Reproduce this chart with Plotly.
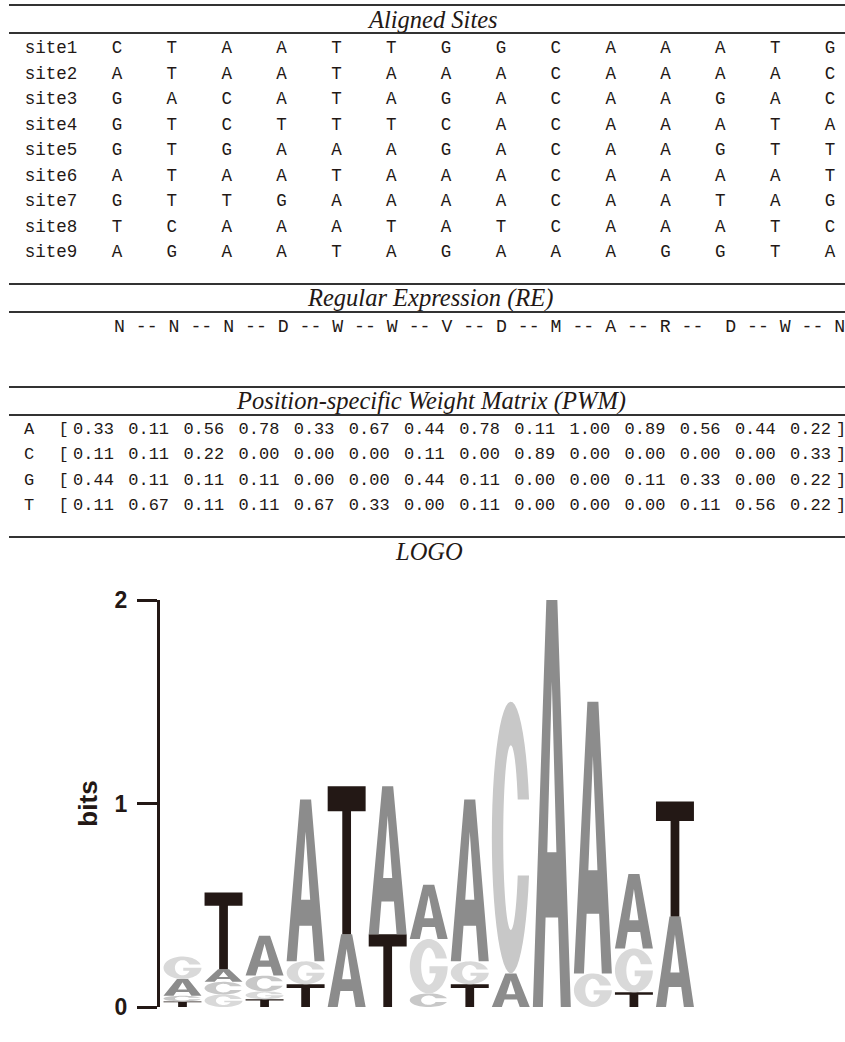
import math
import plotly.graph_objects as go

# ---------------- data ----------------
SITE_NAMES = ["site1", "site2", "site3", "site4", "site5", "site6", "site7", "site8", "site9"]
SITES = [
    "CTAATTGGCAAATG",
    "ATAATAAACAAAAC",
    "GACATAGACAAGAC",
    "GTCTTTCACAAATA",
    "GTGAAAGACAAGTT",
    "ATAATAAACAAAAT",
    "GTTGAAAACAATAG",
    "TCAAATATCAAATC",
    "AGAATAGAAAGGTA",
]
RE_SYMBOLS = ["N", "N", "N", "D", "W", "W", "V", "D", "M", "A", "R", "D", "W", "N"]
BASES = ["A", "C", "G", "T"]
PWM_A = [0.33, 0.11, 0.56, 0.78, 0.33, 0.67, 0.44, 0.78, 0.11, 1.00, 0.89, 0.56, 0.44, 0.22]
PWM_C = [0.11, 0.11, 0.22, 0.00, 0.00, 0.00, 0.11, 0.00, 0.89, 0.00, 0.00, 0.00, 0.00, 0.33]
PWM_G = [0.44, 0.11, 0.11, 0.11, 0.00, 0.00, 0.44, 0.11, 0.00, 0.00, 0.11, 0.33, 0.00, 0.22]
PWM_T = [0.11, 0.67, 0.11, 0.11, 0.67, 0.33, 0.00, 0.11, 0.00, 0.00, 0.00, 0.11, 0.56, 0.22]
LOGO_POSITIONS = 13
YTICKS = [0, 1, 2]

PWM = {"A": PWM_A, "C": PWM_C, "G": PWM_G, "T": PWM_T}

# ---------------- style ----------------
W, H = 845, 1042
TXT = "#231815"
RULE = "#333333"
MONO = "Liberation Mono"
SERIF = "Liberation Serif"
SANS = "Liberation Sans"
LETTER_COL = {"A": "#8c8c8c", "C": "#c8c8c8", "G": "#d9d9d9", "T": "#231815"}

fig = go.Figure()

def px_trace(xs, ys, texts, size=18, family=MONO, color=TXT):
    fig.add_trace(go.Scatter(
        x=xs, y=ys, text=texts, mode="text", textposition="middle center",
        textfont=dict(family=family, size=size, color=color),
        xaxis="x2", yaxis="y2", hoverinfo="skip", showlegend=False, cliponaxis=False))

# ---- rules ----
for yy in [5, 33, 284, 312, 387, 415, 537]:
    fig.add_shape(type="line", xref="x2", yref="y2", x0=9, x1=845, y0=yy, y1=yy,
                  line=dict(color=RULE, width=2))

# ---- section titles ----
def title(txt, x, y):
    fig.add_annotation(text=txt, xref="x2", yref="y2", x=x, y=y, showarrow=False,
                       xanchor="center", yanchor="middle",
                       font=dict(family=SERIF, size=24.5, color=TXT, style="italic"))

title("Aligned Sites", 432, 19)
title("Regular Expression (RE)", 430, 298)
title("Position-specific Weight Matrix (PWM)", 431, 401)
title("LOGO", 429, 551)

# ---- aligned sites ----
SITE_X0, SITE_DX = 117, 54.85
SITE_Y0, SITE_DY = 49, 25.5
xs, ys, tx = [], [], []
for r, (name, seq) in enumerate(zip(SITE_NAMES, SITES)):
    yy = SITE_Y0 + r * SITE_DY
    xs.append(51); ys.append(yy); tx.append(name)
    for c, ch in enumerate(seq):
        xs.append(SITE_X0 + c * SITE_DX); ys.append(yy); tx.append(ch)
px_trace(xs, ys, tx, size=17.5)

# ---- regular expression ----
seps = [" -- "] * (len(RE_SYMBOLS) - 1)
seps[10] = " --  "
re_text = RE_SYMBOLS[0] + "".join(s + sym for s, sym in zip(seps, RE_SYMBOLS[1:]))
fig.add_annotation(text=re_text.replace(" ", "&nbsp;"), xref="x2", yref="y2", x=111.5, y=327,
                   showarrow=False, xanchor="left", yanchor="middle",
                   font=dict(family=MONO, size=18.2, color=TXT))

# ---- PWM ----
PWM_X0, PWM_DX = 93.5, 55.15
PWM_Y0, PWM_DY = 429.5, 25.5
xs, ys, tx = [], [], []
for r, b in enumerate(BASES):
    yy = PWM_Y0 + r * PWM_DY
    xs += [29, 63.5, 841]; ys += [yy, yy, yy]; tx += [b, "[", "]"]
    for c, v in enumerate(PWM[b]):
        xs.append(PWM_X0 + c * PWM_DX); ys.append(yy); tx.append(f"{v:.2f}")
px_trace(xs, ys, tx, size=17)

# ---------------- sequence logo ----------------
def arc(cx, cy, rx, ry, a0, a1, n=48):
    pts = []
    for k in range(n + 1):
        a = math.radians(a0 + (a1 - a0) * k / n)
        pts.append((cx + rx * math.cos(a), cy + ry * math.sin(a)))
    return pts

RO, RIX, RIY = 0.5, 0.2, 0.34

def glyph(letter):
    if letter == "A":
        outer = [(0, 0), (0.355, 1), (0.645, 1), (1, 0), (0.735, 0), (0.665, 0.22),
                 (0.335, 0.22), (0.265, 0)]
        hole = [(0.38, 0.38), (0.62, 0.38), (0.5, 0.8)]
        return [outer, hole]
    if letter == "T":
        return [[(0, 1), (1, 1), (1, 0.83), (0.615, 0.83), (0.615, 0), (0.385, 0),
                 (0.385, 0.83), (0, 0.83)]]
    if letter == "C":
        cut = 0.14
        to = math.degrees(math.asin(cut / RO))
        ti = math.degrees(math.asin(cut / RIY))
        pts = arc(0.5, 0.5, RO, RO, to, 360 - to) + arc(0.5, 0.5, RIX, RIY, 360 - ti, ti)
        return [pts]
    if letter == "G":
        cut = 0.14
        to = math.degrees(math.asin(cut / RO))
        ti = math.degrees(math.asin(cut / RIY))
        bar_lo = 0.37
        tb = math.degrees(math.asin((0.5 - bar_lo) / RIY))
        xb = 0.5 + RIX * math.cos(math.radians(tb))
        pts = arc(0.5, 0.5, RO, RO, to, 360)
        pts += [(0.52, 0.5), (0.52, bar_lo), (xb, bar_lo)]
        pts += arc(0.5, 0.5, RIX, RIY, 360 - tb, ti)
        return [pts]
    return []

def letter_path(letter, xc, width, y0, h):
    parts = []
    for poly in glyph(letter):
        coords = [(xc - width / 2 + u * width, y0 + v * h) for u, v in poly]
        parts.append("M " + " L ".join(f"{x:.4f},{y:.5f}" for x, y in coords) + " Z")
    return " ".join(parts)

ORDER = {b: i for i, b in enumerate(BASES)}
LETTER_W = 0.925
for i in range(LOGO_POSITIONS):
    probs = {b: PWM[b][i] for b in BASES}
    ent = -sum(p * math.log2(p) for p in probs.values() if p > 0)
    ic = max(0.0, 2.0 - ent)
    stack = sorted([(probs[b] * ic, b) for b in BASES if probs[b] > 0],
                   key=lambda t: (t[0], -ORDER[t[1]]))
    base = 0.0
    for hgt, b in stack:
        fig.add_shape(type="path", xref="x", yref="y", layer="above",
                      path=letter_path(b, i + 1, LETTER_W, base, hgt),
                      fillcolor=LETTER_COL[b], line=dict(width=0), fillrule="evenodd")
        base += hgt

fig.add_trace(go.Scatter(x=[1], y=[0], mode="markers", marker=dict(opacity=0),
                         hoverinfo="skip", showlegend=False))

LOGO_X_LEFT, LOGO_X_RIGHT = 160, 716
LOGO_Y_BOTTOM, LOGO_Y_TOP = 1007, 600
pos_dx = 41.05
fig.update_layout(
    width=W, height=H, autosize=False,
    margin=dict(l=0, r=0, t=0, b=0, pad=0, autoexpand=False),
    paper_bgcolor="white", plot_bgcolor="rgba(0,0,0,0)",
    xaxis=dict(domain=[LOGO_X_LEFT / W, LOGO_X_RIGHT / W],
               range=[1 + (LOGO_X_LEFT - 182.5) / pos_dx, 14],
               visible=False, fixedrange=True),
    yaxis=dict(domain=[(H - LOGO_Y_BOTTOM) / H, (H - LOGO_Y_TOP) / H], range=[0, 2],
               tickvals=YTICKS, ticktext=[str(t) for t in YTICKS],
               showline=True, linewidth=3, linecolor=TXT, ticks="outside", ticklen=20,
               tickwidth=3, tickcolor=TXT, showgrid=False, zeroline=False,
               tickfont=dict(family=SANS, size=23, color=TXT, weight="bold"),
               ticklabelstandoff=5,
               title=dict(text="bits", standoff=10,
                          font=dict(family=SANS, size=26, color=TXT, weight="bold")),
               fixedrange=True),
    xaxis2=dict(domain=[0, 1], range=[0, W], anchor="y2", visible=False, fixedrange=True),
    yaxis2=dict(domain=[0, 1], range=[H, 0], anchor="x2", visible=False, fixedrange=True),
)

fig.write_html("out.html", config={"displayModeBar": False},
               post_script="document.body.style.margin='0px';")
